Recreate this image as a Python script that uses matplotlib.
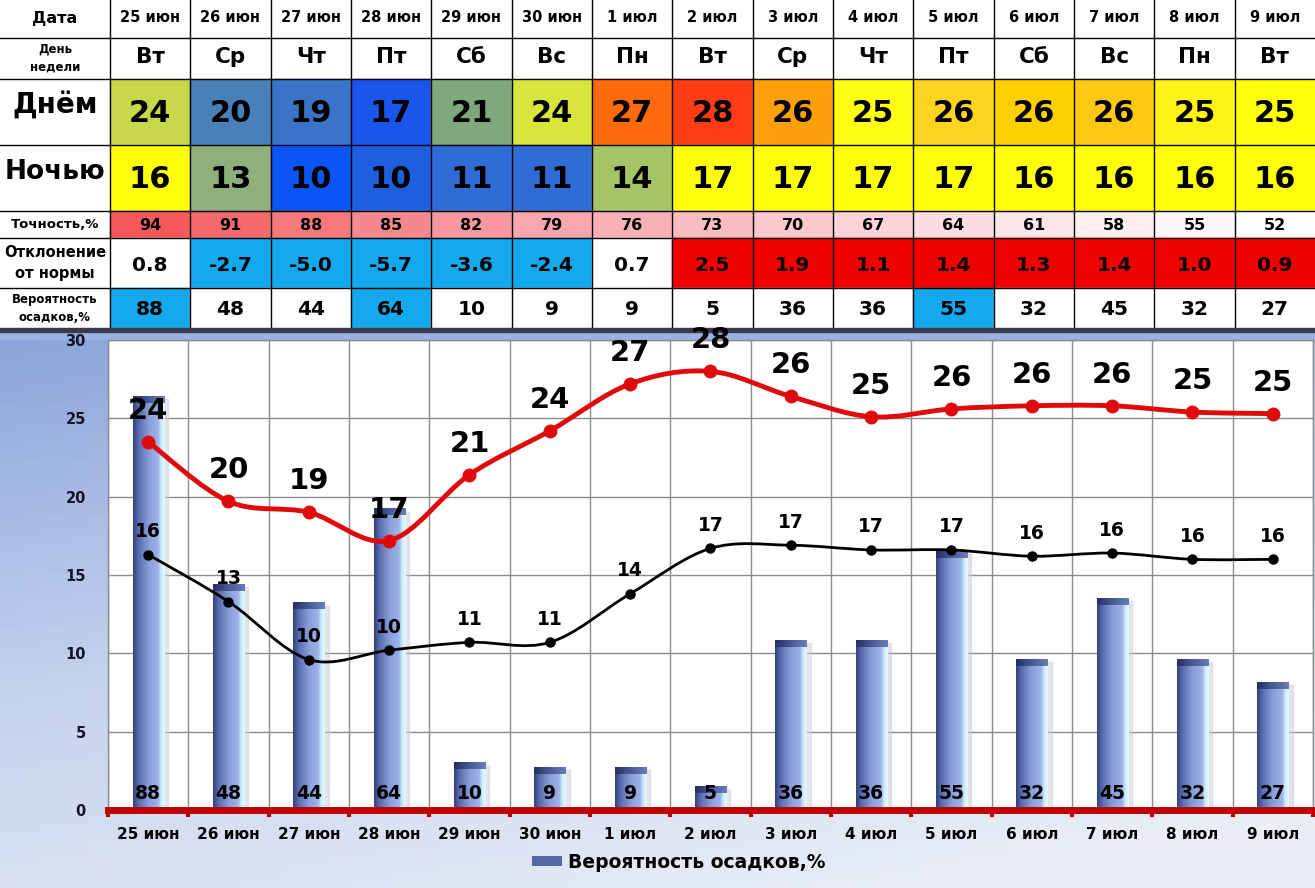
import matplotlib
matplotlib.use("Agg")
import matplotlib.pyplot as plt
import matplotlib.colors as mcolors
from matplotlib.patches import Rectangle, Patch, PathPatch
from matplotlib.path import Path
import numpy as np

plt.rcParams['font.family'] = ['DejaVu Sans']
plt.rcParams['font.weight'] = 'bold'

dates = ["25 июн", "26 июн", "27 июн", "28 июн", "29 июн", "30 июн", "1 июл", "2 июл",
         "3 июл", "4 июл", "5 июл", "6 июл", "7 июл", "8 июл", "9 июл"]
weekdays = ["Вт", "Ср", "Чт", "Пт", "Сб", "Вс", "Пн", "Вт", "Ср", "Чт", "Пт", "Сб", "Вс", "Пн", "Вт"]
day_temp = [24, 20, 19, 17, 21, 24, 27, 28, 26, 25, 26, 26, 26, 25, 25]
night_temp = [16, 13, 10, 10, 11, 11, 14, 17, 17, 17, 17, 16, 16, 16, 16]
accuracy = [94, 91, 88, 85, 82, 79, 76, 73, 70, 67, 64, 61, 58, 55, 52]
deviation = [0.8, -2.7, -5.0, -5.7, -3.6, -2.4, 0.7, 2.5, 1.9, 1.1, 1.4, 1.3, 1.4, 1.0, 0.9]
precip = [88, 48, 44, 64, 10, 9, 9, 5, 36, 36, 55, 32, 45, 32, 27]

# curve points as drawn in the chart
day_curve = [23.5, 19.7, 19.0, 17.2, 21.4, 24.2, 27.2, 28.0, 26.4, 25.1, 25.6, 25.8, 25.8, 25.4, 25.3]
night_curve = [16.3, 13.3, 9.6, 10.2, 10.7, 10.7, 13.8, 16.7, 16.9, 16.6, 16.6, 16.2, 16.4, 16.0, 16.0]
bar_scale = 0.3  # precipitation % drawn on the temperature axis

day_colors = ['#c9d84a', '#4a80b8', '#3a74c9', '#1a56ec', '#7fa87c', '#d8e53a', '#ff6a0a', '#ff3c14',
              '#ff9f0a', '#ffff14', '#ffd420', '#ffd000', '#ffc814', '#fff214', '#ffff0a']
night_colors = ['#ffff0a', '#8fb07a', '#0a55f5', '#1e5fe0', '#2f6cd6', '#2f6cd6', '#a5c466', '#ffff0a',
                '#ffff0a', '#ffff0a', '#ffff0a', '#ffff0a', '#ffff0a', '#ffff0a', '#ffff0a']

W, H = 1315, 888
fig = plt.figure(figsize=(W / 100, H / 100), dpi=100)

bg = fig.add_axes([0, 0, 1, 1])
bg.set_xlim(0, W)
bg.set_ylim(H, 0)
bg.axis('off')

# chart background gradient
gy, gx = np.mgrid[0:1:60j, 0:1:60j]
grad = np.clip(0.75 * gy + 0.35 * gx, 0, 1)
bg_cmap = mcolors.LinearSegmentedColormap.from_list("bgc", ['#8aa4da', '#c6d3ee', '#e9eef7'])
bg.imshow(grad, cmap=bg_cmap, extent=[0, W, H, 330], aspect='auto', zorder=0)
bg.add_patch(Rectangle((0, 0), W, 330, color='white', zorder=0.5))
bg.add_patch(Rectangle((0, 328), W, 4, color='#3a3a4a', zorder=3))
bg.add_patch(Rectangle((0, 332), W, 7, color='#9ab3e2', zorder=0.6))

# ---- table ----
x0, cw = 110, (W - 110) / 15
rows = [0, 38, 79, 145, 211, 238, 288, 328]
acc_cmap = mcolors.LinearSegmentedColormap.from_list("acc", ['#ffffff', '#fbd7dc', '#f6a2a8', '#f45a5a'])

for i in range(15):
    cx = x0 + i * cw
    mid = cx + cw / 2
    bg.add_patch(Rectangle((cx, rows[2]), cw, rows[3] - rows[2], color=day_colors[i], zorder=1))
    bg.add_patch(Rectangle((cx, rows[3]), cw, rows[4] - rows[3], color=night_colors[i], zorder=1))
    bg.add_patch(Rectangle((cx, rows[4]), cw, rows[5] - rows[4],
                           color=acc_cmap((accuracy[i] - 52) / 42), zorder=1))
    if deviation[i] < 0:
        dc = '#14a8ec'
    elif deviation[i] > 0.85:
        dc = '#f20000'
    else:
        dc = 'white'
    bg.add_patch(Rectangle((cx, rows[5]), cw, rows[6] - rows[5], color=dc, zorder=1))
    pc = '#14a8ec' if precip[i] >= 50 else 'white'
    bg.add_patch(Rectangle((cx, rows[6]), cw, rows[7] - rows[6], color=pc, zorder=1))

    bg.text(mid, 17, dates[i], ha='center', va='center', fontsize=10.5)
    bg.text(mid, 57, weekdays[i], ha='center', va='center', fontsize=15.5)
    bg.text(mid, 114, str(day_temp[i]), ha='center', va='center', fontsize=22)
    bg.text(mid, 180, str(night_temp[i]), ha='center', va='center', fontsize=22)
    bg.text(mid, 225, str(accuracy[i]), ha='center', va='center', fontsize=11.5)
    bg.text(mid, 265, f"{deviation[i]:.1f}", ha='center', va='center', fontsize=14.5)
    bg.text(mid, 309, str(precip[i]), ha='center', va='center', fontsize=14.5)

for xv in [x0 + i * cw for i in range(15)]:
    bg.plot([xv, xv], [0, 328], color='black', lw=1, zorder=2)
for yv in rows[1:-1]:
    bg.plot([0, W], [yv, yv], color='black', lw=1, zorder=2)

labels = [("Дата", 11.5), ("День\nнедели", 8.5), ("Днём", 20), ("Ночью", 19),
          ("Точность,%", 9.5), ("Отклонение\nот нормы", 10.5), ("Вероятность\nосадков,%", 8.5)]
for k, (txt, fs) in enumerate(labels):
    yc = (rows[k] + rows[k + 1]) / 2
    if k in (2, 3):
        yc -= 6
    bg.text(55, yc, txt, ha='center', va='center', fontsize=fs, linespacing=1.5)

# ---- chart ----
ax = fig.add_axes([108 / W, (H - 810) / H, 1205 / W, 470 / H])
ax.set_facecolor('white')
x = np.arange(15)

bar_cmap = mcolors.LinearSegmentedColormap.from_list(
    "bar", [(0, '#33417c'), (0.15, '#5668ab'), (0.5, '#8a9fd9'), (0.8, '#9db2e8'),
            (0.88, '#c8ecfb'), (1.0, '#eaf9ff')])
cap_cmap = mcolors.LinearSegmentedColormap.from_list("cap", ['#252f60', '#4a5a98', '#6a7cb8'])
hgrad = np.linspace(0, 1, 64).reshape(1, -1)
bw = 0.39
for xi, p in zip(x, precip):
    h = p * bar_scale
    ax.add_patch(Rectangle((xi + bw / 2, 0), 0.05, h - 0.15, color='#c9cfdc', alpha=0.5, zorder=1.5))
    ax.imshow(hgrad, cmap=bar_cmap, extent=[xi - bw / 2, xi + bw / 2, 0, h],
              aspect='auto', zorder=2, interpolation='bicubic')
    ax.imshow(hgrad, cmap=cap_cmap, extent=[xi - bw / 2, xi + bw / 2, h - 0.4, h],
              aspect='auto', zorder=2.1, interpolation='bicubic')
    ax.annotate(str(p), (xi, 0), xytext=(0, 17), textcoords='offset pixels',
                ha='center', va='center', fontsize=13.5, zorder=5)


def smooth_path(xs, ys):
    pts = np.column_stack([xs, ys]).astype(float)
    ext = np.vstack([pts[0], pts, pts[-1]])
    verts = [pts[0]]
    codes = [Path.MOVETO]
    for i in range(len(pts) - 1):
        p0, p1, p2, p3 = ext[i], ext[i + 1], ext[i + 2], ext[i + 3]
        verts += [p1 + (p2 - p0) / 6, p2 - (p3 - p1) / 6, p2]
        codes += [Path.CURVE4] * 3
    return Path(verts, codes)


ax.add_patch(PathPatch(smooth_path(x, day_curve), fill=False, edgecolor='#e00a0a', lw=3.5, zorder=3))
ax.plot(x, day_curve, 'o', color='#e00a0a', ms=9, zorder=3.5)
ax.add_patch(PathPatch(smooth_path(x, night_curve), fill=False, edgecolor='black', lw=2, zorder=3))
ax.plot(x, night_curve, 'o', color='black', ms=6.5, zorder=3.5)

for xi, yv, t in zip(x, day_curve, day_temp):
    ax.annotate(str(t), (xi, yv), xytext=(0, 31), textcoords='offset pixels',
                ha='center', va='center', fontsize=21, zorder=5)
for xi, yv, t in zip(x, night_curve, night_temp):
    ax.annotate(str(t), (xi, yv), xytext=(0, 23), textcoords='offset pixels',
                ha='center', va='center', fontsize=13.5, zorder=5)

ax.set_xlim(-0.5, 14.5)
ax.set_ylim(0, 30)
ax.set_yticks(range(0, 31, 5))
ax.set_xticks(x)
ax.set_xticklabels(dates, fontsize=11)
ax.set_xticks(np.arange(-0.5, 15, 1), minor=True)
ax.tick_params(axis='x', which='major', length=0, pad=12)
ax.tick_params(axis='x', which='minor', length=5, width=3, color='#c00000', direction='out')
ax.tick_params(axis='y', length=0, pad=16, labelsize=10.5, labelcolor='#141428')
ax.grid(True, which='minor', axis='x', color='#8c8c8c', lw=1, zorder=0)
ax.grid(True, which='major', axis='y', color='#8c8c8c', lw=1, zorder=0)
ax.set_axisbelow(True)
for s in ['top', 'right', 'left']:
    ax.spines[s].set_color('#8c8c8c')
    ax.spines[s].set_linewidth(1)
ax.spines['bottom'].set_color('#c00000')
ax.spines['bottom'].set_linewidth(5)

fig.legend(handles=[Patch(facecolor='#5566a8', edgecolor='none', label="Вероятность осадков,%")],
           loc='center', bbox_to_anchor=(0.516, 0.029), frameon=False, fontsize=13.5,
           handlelength=1.6, handleheight=0.45, handletextpad=0.3)

fig.savefig("out.png", dpi=100)
